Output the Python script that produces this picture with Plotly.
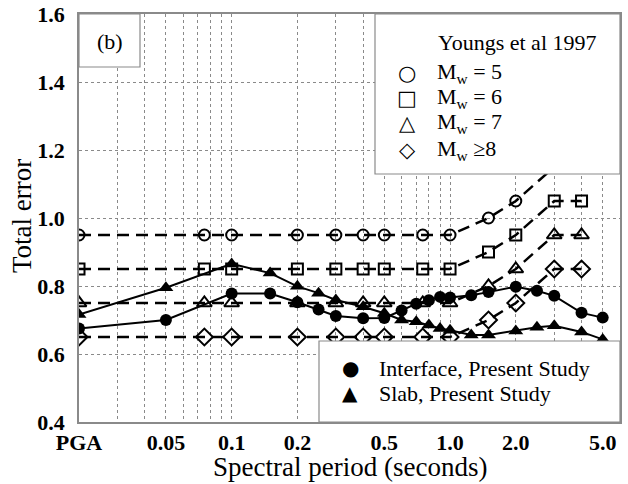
import plotly.graph_objects as go

# ---- data -------------------------------------------------------------
# Spectral periods (s); PGA is plotted at 0.02 s
youngs_periods = [0.02, 0.075, 0.1, 0.2, 0.3, 0.4, 0.5, 0.75, 1.0, 1.5, 2.0, 3.0, 4.0]
youngs_mw5 = [0.95, 0.95, 0.95, 0.95, 0.95, 0.95, 0.95, 0.95, 0.95, 1.00, 1.05, 1.15, 1.15]
youngs_mw6 = [0.85, 0.85, 0.85, 0.85, 0.85, 0.85, 0.85, 0.85, 0.85, 0.90, 0.95, 1.05, 1.05]
youngs_mw7 = [0.75, 0.75, 0.75, 0.75, 0.75, 0.75, 0.75, 0.75, 0.75, 0.80, 0.85, 0.95, 0.95]
youngs_mw8 = [0.65, 0.65, 0.65, 0.65, 0.65, 0.65, 0.65, 0.65, 0.65, 0.70, 0.75, 0.85, 0.85]

study_periods = [0.02, 0.05, 0.1, 0.15, 0.2, 0.25, 0.3, 0.4, 0.5, 0.6, 0.7,
                 0.8, 0.9, 1.0, 1.25, 1.5, 2.0, 2.5, 3.0, 4.0, 5.0]
interface_err = [0.675, 0.700, 0.778, 0.778, 0.752, 0.731, 0.712, 0.705, 0.706, 0.728, 0.748,
                 0.758, 0.768, 0.766, 0.773, 0.782, 0.798, 0.786, 0.771, 0.721, 0.707]
slab_err = [0.716, 0.795, 0.865, 0.838, 0.799, 0.779, 0.759, 0.739, 0.720, 0.700, 0.695,
            0.685, 0.675, 0.670, 0.656, 0.656, 0.668, 0.679, 0.683, 0.665, 0.643]

tick_vals = [0.02, 0.05, 0.1, 0.2, 0.5, 1.0, 2.0, 5.0]
tick_text = ["PGA", "0.05", "0.1", "0.2", "0.5", "1.0", "2.0", "5.0"]
minor_grid_vals = [0.03, 0.04, 0.06, 0.07, 0.08, 0.09, 0.3, 0.4, 0.6, 0.7, 0.8, 0.9, 3.0, 4.0]

youngs_labels = ["M<sub>w</sub> = 5", "M<sub>w</sub> = 6", "M<sub>w</sub> = 7", "M<sub>w</sub> ≥8"]
youngs_glyphs = ["○", "□", "△", "◇"]
study_labels = ["Interface, Present Study", "Slab, Present Study"]
study_glyphs = ["●", "▲"]

# ---- layout geometry (pixels) -----------------------------------------
W, H = 628, 484
PL, PR, PT, PB = 79, 620, 14, 422
SERIF = "Liberation Serif"


def xp(px):
    return (px - PL) / (PR - PL)


def yp(py):
    return (PB - py) / (PB - PT)


fig = go.Figure()

youngs_series = [
    (youngs_mw5, "circle-open", 11),
    (youngs_mw6, "square-open", 11),
    (youngs_mw7, "triangle-up-open", 13),
    (youngs_mw8, "diamond-open", 13),
]
for vals, sym, size in youngs_series:
    fig.add_trace(go.Scatter(
        x=youngs_periods, y=vals, mode="lines+markers",
        line=dict(color="black", width=2.5, dash="12px,7px"),
        marker=dict(symbol=sym, size=size, color="black", line=dict(width=2, color="black")),
        showlegend=False,
    ))

fig.add_trace(go.Scatter(
    x=study_periods, y=interface_err, mode="lines+markers",
    line=dict(color="black", width=2),
    marker=dict(symbol="circle", size=12, color="black"),
    showlegend=False,
))
fig.add_trace(go.Scatter(
    x=study_periods, y=slab_err, mode="lines+markers",
    line=dict(color="black", width=2),
    marker=dict(symbol="triangle-up", size=13, color="black"),
    showlegend=False,
))

shapes = []
annotations = []

# panel label box
shapes.append(dict(type="rect", xref="paper", yref="paper",
                   x0=xp(PL), x1=xp(140), y0=yp(67), y1=yp(PT),
                   line=dict(color="#8a8a8a", width=1.2), fillcolor="white", layer="above"))
annotations.append(dict(xref="paper", yref="paper", x=xp(110), y=yp(42),
                        text="(b)", showarrow=False, xanchor="center", yanchor="middle",
                        font=dict(family=SERIF, size=22, color="black")))

# Youngs et al key
shapes.append(dict(type="rect", xref="paper", yref="paper",
                   x0=xp(375), x1=xp(PR), y0=yp(174), y1=yp(PT),
                   line=dict(color="#8a8a8a", width=1.2), fillcolor="white", layer="above"))
annotations.append(dict(xref="paper", yref="paper", x=xp(436), y=yp(43),
                        text="Youngs et al 1997", showarrow=False, xanchor="left", yanchor="middle",
                        font=dict(family=SERIF, size=22, color="black")))
row_y = [73, 98, 123, 150]
for glyph, label, ry in zip(youngs_glyphs, youngs_labels, row_y):
    annotations.append(dict(xref="paper", yref="paper", x=xp(407), y=yp(ry),
                            text=glyph, showarrow=False, xanchor="center", yanchor="middle",
                            font=dict(family="DejaVu Sans", size=21, color="black")))
    annotations.append(dict(xref="paper", yref="paper", x=xp(435), y=yp(ry),
                            text=label, showarrow=False, xanchor="left", yanchor="middle",
                            font=dict(family=SERIF, size=22, color="black")))

# present-study key
shapes.append(dict(type="rect", xref="paper", yref="paper",
                   x0=xp(319), x1=xp(PR), y0=yp(PB), y1=yp(341),
                   line=dict(color="#8a8a8a", width=1.2), fillcolor="white", layer="above"))
for glyph, label, ry in zip(study_glyphs, study_labels, [368, 393]):
    annotations.append(dict(xref="paper", yref="paper", x=xp(350), y=yp(ry),
                            text=glyph, showarrow=False, xanchor="center", yanchor="middle",
                            font=dict(family="DejaVu Sans", size=20, color="black")))
    annotations.append(dict(xref="paper", yref="paper", x=xp(377), y=yp(ry),
                            text=label, showarrow=False, xanchor="left", yanchor="middle",
                            font=dict(family=SERIF, size=22, color="black")))

# axis titles
annotations.append(dict(xref="paper", yref="paper", x=0.5, y=yp(467),
                        text="Spectral period (seconds)", showarrow=False,
                        xanchor="center", yanchor="middle",
                        font=dict(family=SERIF, size=27, color="black")))
annotations.append(dict(xref="paper", yref="paper", x=xp(22), y=yp(216),
                        text="Total error", showarrow=False, textangle=-90,
                        xanchor="center", yanchor="middle",
                        font=dict(family=SERIF, size=27, color="black")))

fig.update_layout(
    width=W, height=H,
    margin=dict(l=PL, r=W - PR, t=PT, b=H - PB, autoexpand=False),
    paper_bgcolor="white", plot_bgcolor="white",
    shapes=shapes, annotations=annotations,
    showlegend=False,
    font=dict(family=SERIF, color="black"),
)

fig.update_xaxes(
    type="log", range=[-1.69897, 0.7782],
    tickvals=tick_vals, ticktext=tick_text,
    tickfont=dict(family=SERIF, size=22, color="black", weight="bold"),
    ticks="",
    showgrid=True, gridcolor="#8a8a8a", gridwidth=1, griddash="dot",
    minor=dict(tickvals=minor_grid_vals, showgrid=True, gridcolor="#8a8a8a",
               gridwidth=1, griddash="dot", ticks=""),
    showline=True, linecolor="#8a8a8a", linewidth=1.5, mirror=True,
    zeroline=False,
)
fig.update_yaxes(
    range=[0.4, 1.6], dtick=0.2, tick0=0.4, tickformat=".1f",
    tickfont=dict(family=SERIF, size=22, color="black", weight="bold"),
    ticks="outside", ticklen=8, tickcolor="rgba(0,0,0,0)",
    showgrid=True, gridcolor="#8a8a8a", gridwidth=1, griddash="dot",
    showline=True, linecolor="#8a8a8a", linewidth=1.5, mirror=True,
    zeroline=False,
)

fig.write_html("out.html")
